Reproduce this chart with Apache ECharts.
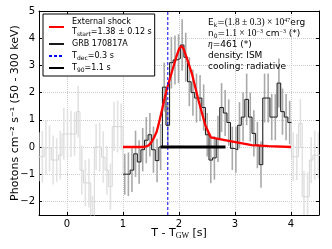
<!DOCTYPE html>
<html><head><meta charset="utf-8">
<script src="https://cdn.jsdelivr.net/npm/echarts@6/dist/echarts.min.js"></script>
<style>html,body{margin:0;padding:0;background:#fff}#c{width:332px;height:249px}</style>
</head><body><div id="c"></div>
<script>
// ---- data ----
const binWidth = 0.064;
const preStart = -0.536;
const preValues = [-0.36,-0.36,-0.03,-0.05,-0.48,-0.48,-0.3,0.48,0.48,0.48,0.48,1.3,-0.85,-1.32,-1.32,-2.7,0.0,0.0,-0.37,-0.85,-1.46,0.75,0.75,0.75];
const preErrors = [0.9,0.95,1.0,0.85,0.9,0.8,0.9,0.95,0.9,0.85,0.8,0.95,0.9,0.85,0.9,0.9,0.85,0.9,0.95,0.9,0.85,0.9,0.95,0.85];
const burstStart = 1.0;
const burstValues = [-1.0,-1.0,-0.85,-0.25,-0.55,-0.1,0.25,0.45,-0.1,-0.5,0.0,2.2,0.8,3.1,3.2,3.25,3.75,3.3,2.4,2.0,1.8,1.8,1.45,0.45,-0.48,-0.4,0.3,1.45,1.25,0.9,-0.05,-0.1,0.8,1.1,1.75,1.1,0.5,0.07,-0.65,1.8,1.8,1.1,1.1,2.35,1.3,1.1,0.9];
const burstErrors = [0.75,0.8,0.8,0.85,0.8,0.8,0.85,0.8,0.85,0.8,0.85,0.9,0.85,0.95,0.9,0.9,0.95,0.9,0.9,0.85,0.9,0.85,0.85,0.8,0.85,0.8,0.85,0.9,0.85,0.85,0.8,0.85,0.85,0.9,0.95,0.9,0.85,0.85,0.85,0.9,0.9,0.85,0.85,0.9,0.85,0.85,0.8];
const postStart = 4.008;
const postValues = [-0.36,-0.36,0.87,-1.83,-1.83,-0.48,-0.3,-0.3];
const postErrors = [0.9,0.85,0.9,0.95,0.9,0.85,0.9,0.85];
const modelTime = [1.0,1.38,1.45,1.5,1.55,1.6,1.65,1.7,1.75,1.8,1.85,1.9,1.95,2.0,2.04,2.08,2.15,2.23,2.35,2.47,2.57,2.7,2.96,3.3,3.6,4.0];
const modelFlux = [0,0,0.05,0.15,0.33,0.55,0.95,1.4,1.85,2.25,2.6,2.95,3.3,3.6,3.72,3.62,3.2,2.7,1.7,0.8,0.35,0.3,0.2,0.07,0.03,0.0];
const tDecTime = 1.8;
const t90Range = [1.67, 2.83];
const legendNames = ['External shock','GRB 170817A','Tdec','T90'];
const legendLabels = {
  'External shock': 'External shock\n{t|T}{s|start}{t|=1.38 ± 0.12 s}',
  'GRB 170817A': 'GRB 170817A',
  'Tdec': '{t|T}{s|dec}{t|=0.3 s}',
  'T90': '{t|T}{s|90}{t|=1.1 s}'
};
const annotationLines = [
  '{t|E}{s|k}{t|=}{m|(1.8 ± 0.3) × 10}{p|47}{t|erg}',
  '{t|n}{s|0}{t|=}{m|1.1 × 10}{p|−3}{t| cm}{p|−3}{t| (*)}',
  '{i|η}{t|=461 (*)}',
  '{t|density: ISM}',
  '{t|cooling: radiative}'
];
const yAxisTitle = 'Photons cm⁻² s⁻¹ (50 - 300 keV)';
const xAxisTitle = '{t|T - T}{s|GW}{t| [s]}';

// ---- helpers ----
function histPoints(start, vals){
  const pts = vals.map((v,i)=>[start + i*binWidth, v]);
  pts.push([start + vals.length*binWidth, vals[vals.length-1]]);
  return pts;
}
function errPoints(start, vals, errs){
  return vals.map((v,i)=>[start + (i+0.5)*binWidth, v, errs[i]]);
}
function errSeries(data, color){
  return {type:'custom', data:data, clip:true, silent:true, z:1,
    renderItem:function(params, api){
      const x=api.value(0), y=api.value(1), e=api.value(2);
      const a=api.coord([x,y-e]), b=api.coord([x,y+e]);
      return {type:'line', shape:{x1:a[0],y1:a[1],x2:b[0],y2:b[1]}, style:{stroke:color, lineWidth:1.6}};
    }};
}
function minusFmt(v){ return String(v).replace('-', '−'); }
const allValues = preValues.concat(burstValues, postValues);
const FONT = 'DejaVu Sans';
const MATH = 'Liberation Serif';

const chart = echarts.init(document.getElementById('c'), null, {renderer:'canvas'});
const axisCommon = {
  axisLine:{show:true, onZero:false, lineStyle:{color:'#000', width:1}},
  axisTick:{show:true, inside:true, length:3, lineStyle:{color:'#000'}}
};
chart.setOption({
  animation:false,
  backgroundColor:'#fff',
  grid:{left:39, right:13, top:11, bottom:34, outerBoundsMode:'none', containLabel:false},
  xAxis:[
    Object.assign({type:'value', min:-0.5, max:4.5, splitNumber:5, position:'bottom',
      axisLabel:{show:true, showMinLabel:false, showMaxLabel:false, color:'#000', fontSize:10, fontFamily:FONT, margin:4, formatter:minusFmt},
      splitLine:{show:true, lineStyle:{color:'#cccccc', type:'dotted', width:1}},
      name:xAxisTitle, nameLocation:'middle', nameGap:12, nameMoveOverlap:false,
      nameTextStyle:{color:'#000', fontFamily:FONT, fontSize:11, rich:{t:{fontSize:11, fontFamily:FONT, lineHeight:13}, s:{fontSize:8, fontFamily:MATH, lineHeight:7, verticalAlign:'bottom'}}}
    }, axisCommon),
    Object.assign({type:'value', min:-0.5, max:4.5, splitNumber:5, position:'top',
      axisLabel:{show:false}, splitLine:{show:false}}, axisCommon)
  ],
  yAxis:[
    Object.assign({type:'value', min:-2.5, max:5, splitNumber:8, position:'left',
      axisLabel:{show:true, showMinLabel:false, color:'#000', fontSize:10, fontFamily:FONT, margin:4, formatter:minusFmt},
      splitLine:{show:true, lineStyle:{color:'#cccccc', type:'dotted', width:1}},
      name:yAxisTitle, nameLocation:'middle', nameGap:18.5, nameRotate:90, nameMoveOverlap:false,
      nameTextStyle:{color:'#000', fontFamily:FONT, fontSize:11}
    }, axisCommon),
    Object.assign({type:'value', min:-2.5, max:5, splitNumber:8, position:'right',
      axisLabel:{show:false}, splitLine:{show:false}}, axisCommon)
  ],
  legend:{
    data:legendNames, orient:'vertical', left:43, top:14,
    backgroundColor:'#fff', borderColor:'#000', borderWidth:1, borderRadius:0,
    padding:[3,3,3,5], itemGap:2, itemWidth:15, itemHeight:8,
    itemStyle:{color:'rgba(0,0,0,0)', borderWidth:0, opacity:0},
    textStyle:{fontSize:8, fontFamily:FONT, color:'#000', lineHeight:10, padding:[0,0,0,3],
      rich:{t:{fontSize:8, fontFamily:FONT, lineHeight:10}, s:{fontSize:6, fontFamily:FONT, lineHeight:5, verticalAlign:'bottom'}}},
    formatter:function(name){ return legendLabels[name]; }
  },
  graphic:[{type:'text', left:208, top:17, z:100,
    style:{text:annotationLines.join('\n'), fill:'#000', fontSize:9, fontFamily:FONT, lineHeight:11,
      rich:{t:{fontSize:9, fontFamily:FONT, lineHeight:11}, m:{fontSize:9.5, fontFamily:MATH, lineHeight:11},
        i:{fontSize:9.5, fontFamily:MATH, fontStyle:'italic', lineHeight:11},
        s:{fontSize:6, fontFamily:FONT, lineHeight:5, verticalAlign:'bottom'}, p:{fontSize:6, fontFamily:MATH, lineHeight:5, verticalAlign:'top'}}}}],
  series:[
    errSeries(errPoints(preStart, preValues, preErrors).concat(errPoints(postStart, postValues, postErrors)), '#e2e2e2'),
    {type:'line', name:'lc', data:histPoints(preStart, allValues), step:'end', symbol:'none', silent:true, z:2,
      lineStyle:{color:'#d6d6d6', width:1}},
    errSeries(errPoints(burstStart, burstValues, burstErrors), '#a9a9a9'),
    {type:'line', name:'GRB 170817A', data:histPoints(burstStart, burstValues), step:'end', symbol:'none', z:4,
      lineStyle:{color:'#1a1a1a', width:1}, itemStyle:{color:'#000'}},
    {type:'line', name:'External shock', data:modelTime.map((t,i)=>[t, modelFlux[i]]), symbol:'none', z:5,
      lineStyle:{color:'#ff0000', width:2.3}, itemStyle:{color:'#ff0000'}},
    {type:'line', name:'Tdec', data:[[tDecTime,-2.5],[tDecTime,5]], symbol:'none', z:6,
      lineStyle:{color:'#0000ff', width:1, type:[3,2]}, itemStyle:{color:'#0000ff'}},
    {type:'line', name:'T90', data:[[t90Range[0],0],[t90Range[1],0]], symbol:'none', z:7,
      lineStyle:{color:'#000', width:3}, itemStyle:{color:'#000'}}
  ]
});
</script></body></html>
